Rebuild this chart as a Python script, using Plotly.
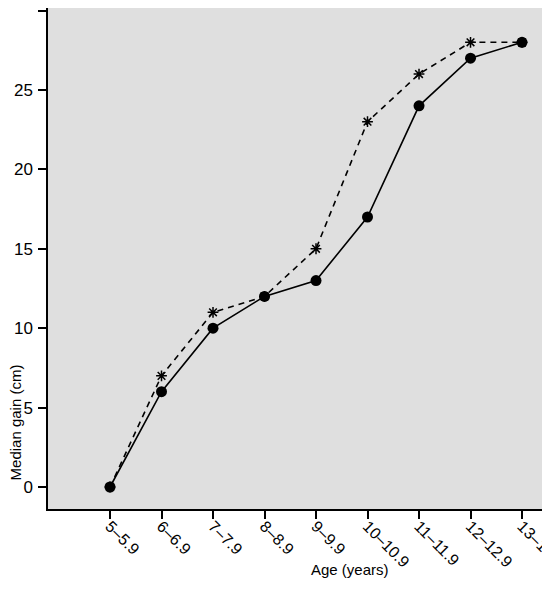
import plotly.graph_objects as go

# age groups (years)
ages = ["5–5.9", "6–6.9", "7–7.9", "8–8.9", "9–9.9",
        "10–10.9", "11–11.9", "12–12.9", "13–13.9"]
# solid line, filled circles
median_a = [0, 6, 10, 12, 13, 17, 24, 27, 28]
# dashed line, asterisks
median_b = [0, 7, 11, 12, 15, 23, 26, 28, 28]

font = "Liberation Sans, Arial, Helvetica, sans-serif"

fig = go.Figure()
fig.add_trace(go.Scatter(
    x=ages, y=median_b, mode="lines+markers",
    line=dict(color="black", width=1.6, dash="6px,5px"),
    marker=dict(symbol="asterisk-open", size=9, color="black",
                line=dict(color="black", width=1.5)),
    showlegend=False,
))
fig.add_trace(go.Scatter(
    x=ages, y=median_a, mode="lines+markers",
    line=dict(color="black", width=1.6),
    marker=dict(symbol="circle", size=11, color="black"),
    showlegend=False,
))

# the page body has an 8px margin, so the figure is 16px smaller than the window
fig.update_layout(
    width=534, height=573,
    margin=dict(l=40, r=0, t=0, b=72),
    paper_bgcolor="white",
    plot_bgcolor="#dfdfdf",
    font=dict(family=font, color="black", size=16),
    xaxis=dict(
        type="category", range=[-1.204, 8.388],
        showline=True, linecolor="black", linewidth=1.5,
        ticks="outside", ticklen=8, tickwidth=1.5, tickcolor="black",
        tickangle=45, tickfont=dict(size=16), ticklabelstandoff=-8,
        showgrid=False, zeroline=False, automargin=False,
    ),
    yaxis=dict(
        range=[-1.385, 30.16], tickvals=[0, 5, 10, 15, 20, 25, 30],
        showline=True, linecolor="black", linewidth=1.5,
        ticks="outside", ticklen=8, tickwidth=1.5, tickcolor="black",
        tickfont=dict(size=17), ticklabelstandoff=2,
        showgrid=False, zeroline=False, automargin=False,
    ),
    annotations=[
        dict(text="Age (years)", xref="paper", yref="paper",
             x=(350 - 48) / 494, y=-0.1425,
             xanchor="center", yanchor="bottom", showarrow=False,
             font=dict(size=15)),
        dict(text="Median gain (cm)", xref="paper", yref="paper",
             x=-0.081, y=0.054, textangle=-90, xshift=-3,
             xanchor="left", yanchor="bottom", showarrow=False,
             font=dict(size=15)),
    ],
)

fig.write_html("out.html")
